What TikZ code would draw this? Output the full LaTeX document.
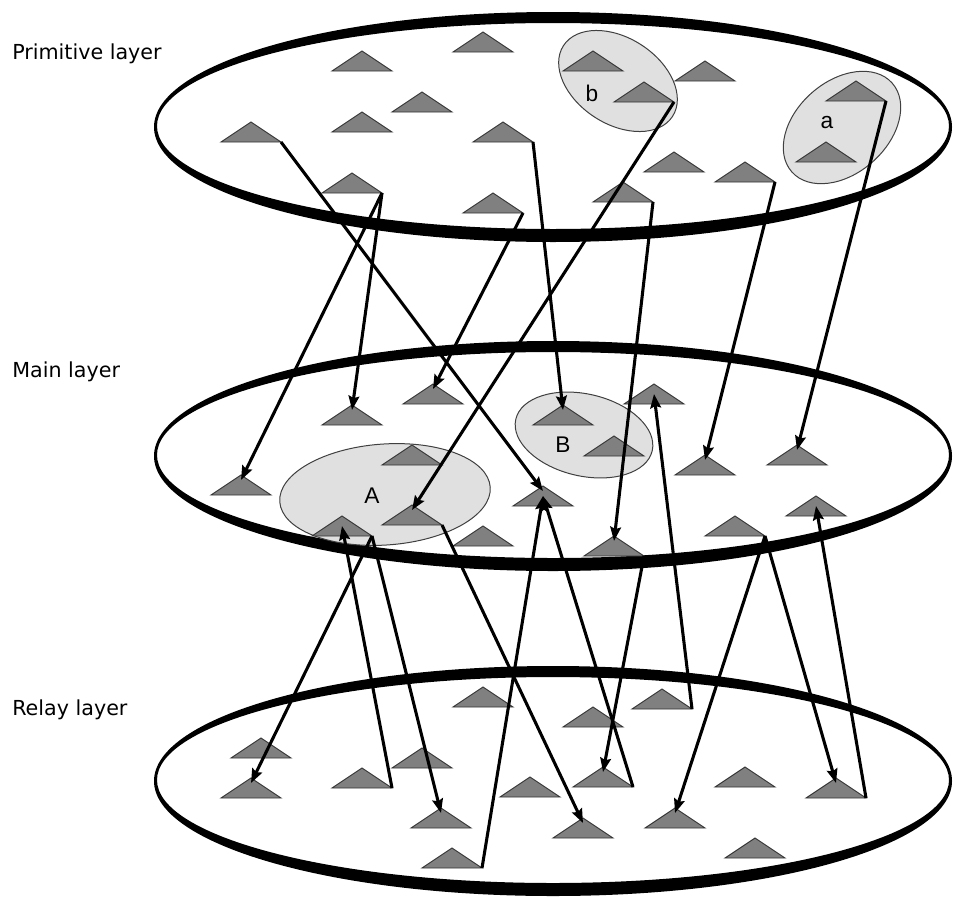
\documentclass[tikz,border=0pt]{standalone}
\usepackage{fontspec}
\setmainfont{DejaVu Sans}
\newfontfamily\labfont{Liberation Sans}
\usetikzlibrary{arrows.meta,calc}
\definecolor{trifill}{gray}{0.5}
\definecolor{triedge}{gray}{0.2}
\definecolor{grpfill}{gray}{0.88}
\definecolor{grpedge}{gray}{0.25}
\begin{document}
\begin{tikzpicture}[x=0.75pt,y=-0.75pt,
  tri/.style={minimum width=45pt,minimum height=15pt,inner sep=0pt,outer sep=0pt},
  trishape/.style={fill=trifill,draw=triedge,line width=0.7pt,line join=miter},
  grp/.style={fill=grpfill,draw=grpedge,line width=0.75pt},
  arr/.style={line width=2.3pt,-{Stealth[length=10.5pt,width=8pt,inset=1.5pt]}},
  layerlab/.style={anchor=base west,inner sep=0pt,font=\fontsize{15.5}{18}\selectfont},
  grplab/.style={inner sep=0pt,font=\labfont\fontsize{17}{20}\selectfont}]
\useasboundingbox (0,0) rectangle (959,896);
% layer rings
\foreach \cy in {127,456,781}
  \fill[even odd rule] (553,\cy) ellipse [x radius=399, y radius=115]
                       (553,\cy-1) ellipse [x radius=396, y radius=103];
% group ellipses
\draw[grp, rotate around={-33:(618,81)}] (618,81) ellipse [x radius=65, y radius=43];
\draw[grp, rotate around={41.5:(842,127.5)}] (842,127.5) ellipse [x radius=67, y radius=46];
\draw[grp, rotate around={-13:(584,435)}] (584,435) ellipse [x radius=70, y radius=41];
\draw[grp, rotate around={4:(385,494.5)}] (385,494.5) ellipse [x radius=105.5, y radius=50.5];
% triangles (name/apex x/base y)
\foreach \n/\x/\y in {
  p1/483/52, p2/362/71, p3/593/71, p4/705/81, p5/422/112, p6/644/102,
  p7/856/101, p8/362/132, p9/251/142, p10/503/142, p11/826/162, p12/674/172,
  p13/745/182, p14/352/193, p15/623/202, p16/493/213,
  m1/433/404, m2/654/404, m3/352/425, m4/563/425, m5/614/456, m6/412/465,
  m7/797/465, m8/705/475, m9/241/495, m10/543/506, m11/816/516, m12/412/525,
  m13/342/536, m14/735/536, m15/483/546, m16/614/556,
  r1/483/707, r2/662/709, r3/593/727, r4/261/758, r5/422/768, r6/362/788,
  r7/603/787, r8/745/787, r9/530/797, r10/251/798, r11/836/798, r12/441/828,
  r13/675/828, r14/583/838, r15/755/858, r16/452/868}
  {\node[tri] (\n) at (\x,\y-10) {};
   \filldraw[trishape] (\n.north) -- (\n.south east) -- (\n.south west) -- cycle;}
% labels
\node[layerlab] (lp) at (12,59) {Primitive layer};
\node[layerlab] (lm) at (12,377) {Main layer};
\node[layerlab] (lr) at (12,715) {Relay layer};
\node[grplab] (la) at (827,123) {a};
\node[grplab] (lb) at (592,93) {b};
\node[grplab] (lA) at (372,496) {A};
\node[grplab] (lB) at (563,445) {B};
% downward connectors
\foreach \s/\t in {p9/m10, p14/m9, p14/m3, p16/m1, p10/m4, p6/m12, p15/m16,
  p13/m8, p7/m7, m13/r10, m13/r12, m12/r14, m16/r7, m14/r13, m14/r11}
  \draw[arr] (\s.south east) -- ($(\t.north)+(0,5)$);
% upward connectors
\foreach \s/\t in {r6/m13, r16/m10, r7/m10, r2/m2, r11/m11}
  \draw[arr] (\s.south east) -- ($(\t.north)+(0,10)$);
\end{tikzpicture}
\end{document}
